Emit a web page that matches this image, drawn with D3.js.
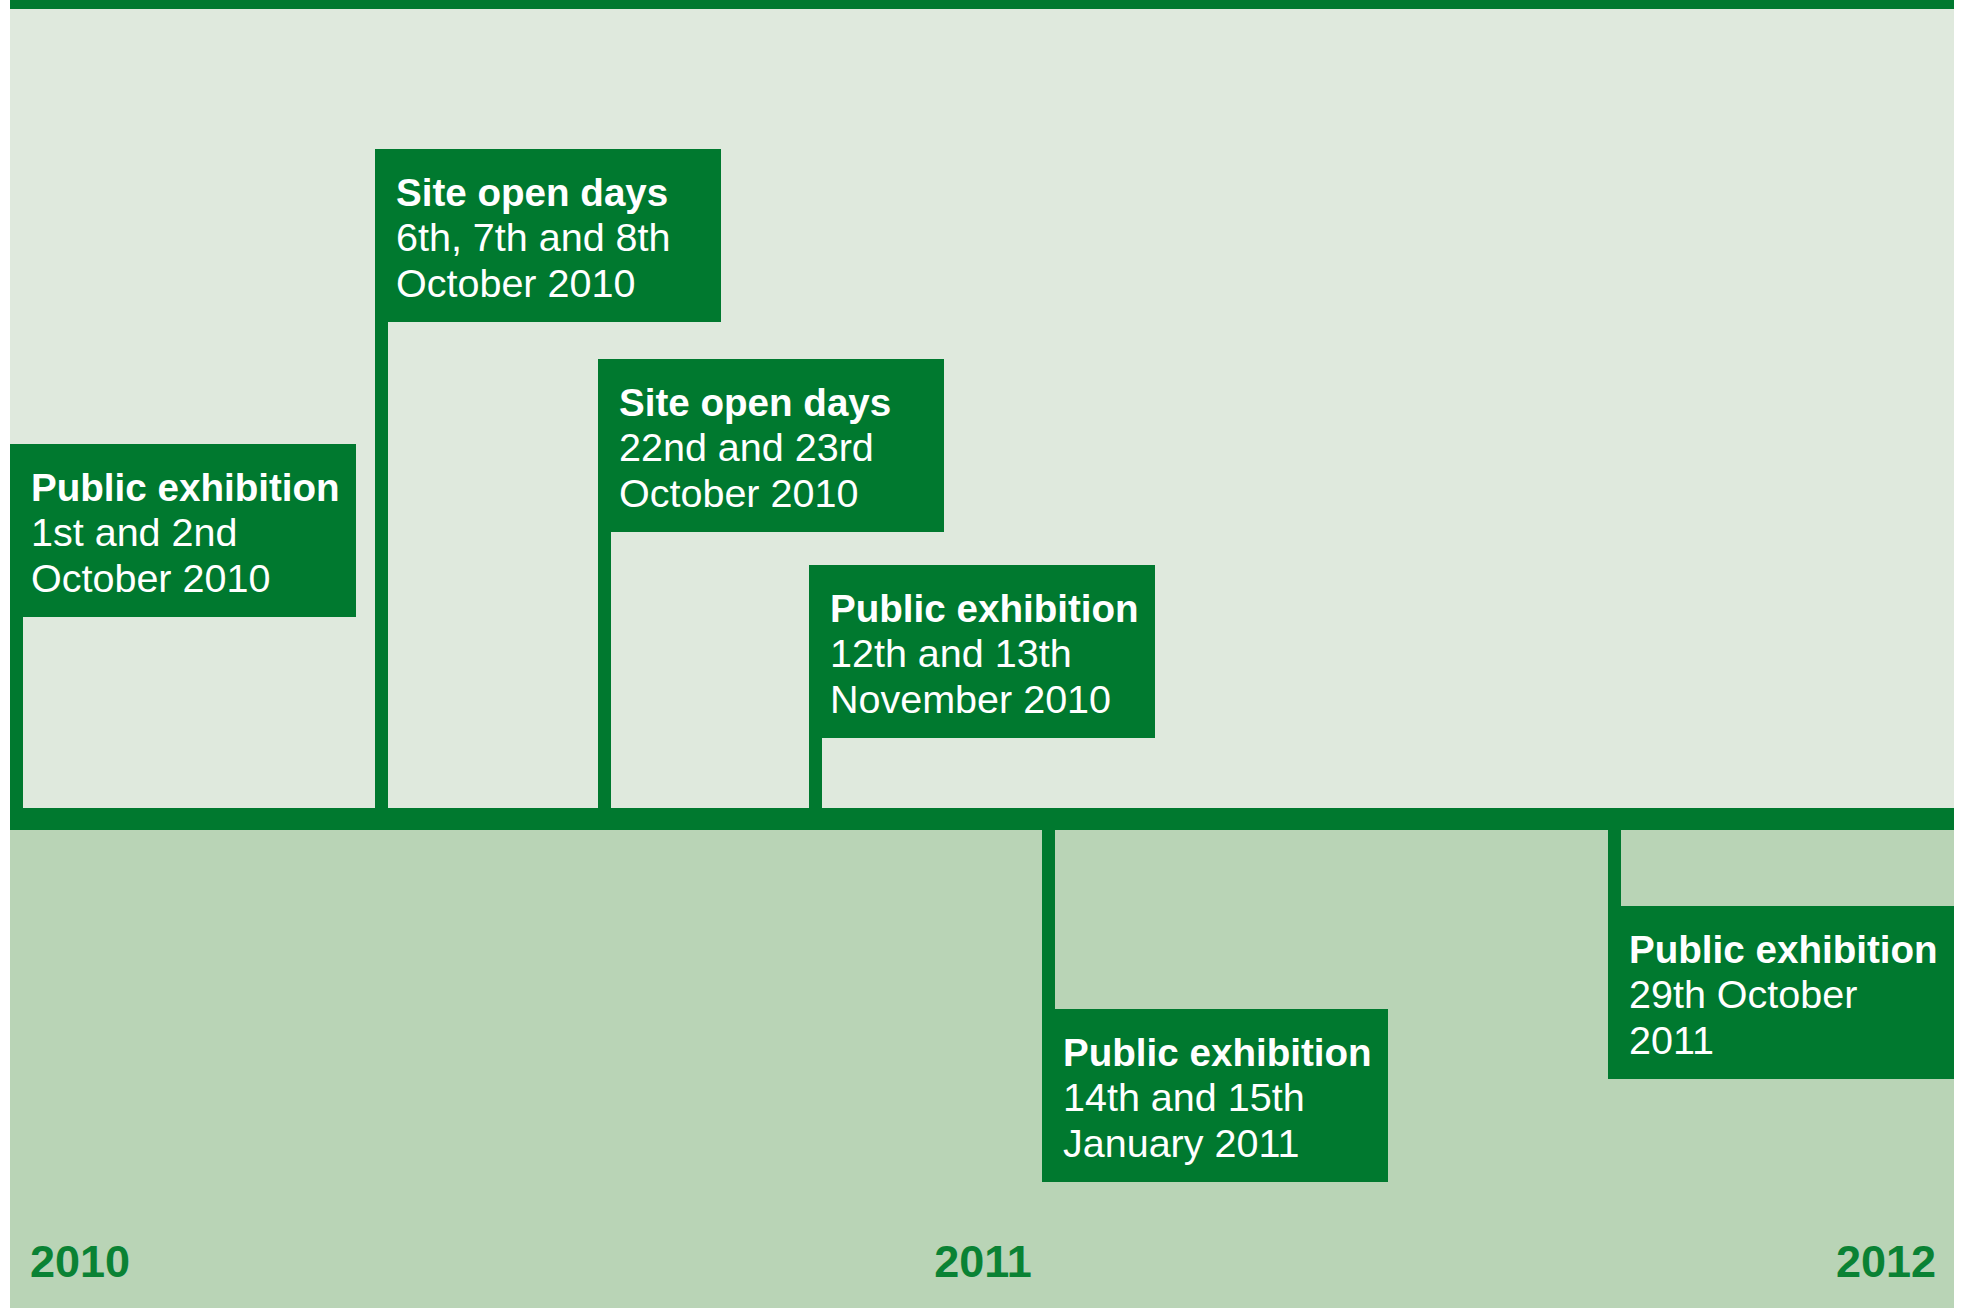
<!DOCTYPE html>
<html>
<head>
<meta charset="utf-8">
<title>Consultation timeline</title>
<script src="https://cdn.jsdelivr.net/npm/d3@7"></script>
<style>
  body { margin: 0; background: #fff; }
  svg { display: block; font-family: "Liberation Sans", Arial, Helvetica, sans-serif; }
</style>
</head>
<body>
<div id="visContainer"></div>
<script>
// data
const eventDates = ["2010-10-01", "2010-10-06", "2010-10-22", "2010-11-12", "2011-01-14", "2011-10-29"];
const eventTitles = ["Public exhibition", "Site open days", "Site open days", "Public exhibition", "Public exhibition", "Public exhibition"];
const eventLine1 = ["1st and 2nd", "6th, 7th and 8th", "22nd and 23rd", "12th and 13th", "14th and 15th", "29th October"];
const eventLine2 = ["October 2010", "October 2010", "October 2010", "November 2010", "January 2011", "2011"];
const years = ["2010", "2011", "2012"];

function makeVis() {
  const width = 1963;
  const height = 1308;
  const left = 10, right = 1954;
  const axisTop = 808, axisH = 22;
  const green = "#00792f";

  // schematic layout: where each flag sits along the line, and how long its pole is
  const stemStops = [10, 375, 598, 809, 1042, 1608];
  const stemSide = [-1, -1, -1, -1, 1, 1];
  const stemLen = [191, 486, 276, 70, 179, 76];
  const boxW = 346, boxH = 173, stemW = 13;

  const parse = d3.timeParse("%Y-%m-%d");
  const events = eventDates.map((d, i) => ({
    date: parse(d),
    title: eventTitles[i],
    lines: [eventLine1[i], eventLine2[i]],
    side: stemSide[i],
    len: stemLen[i]
  }));

  const xScale = d3.scaleTime()
    .domain(events.map(d => d.date))
    .range(stemStops);

  const yearScale = d3.scalePoint()
    .domain(years)
    .range([left + 20, right - 18]);

  const svg = d3.create("svg")
    .attr("width", width)
    .attr("height", height);

  document.querySelector("#visContainer").append(svg.node());

  // backgrounds
  svg.append("rect")
    .attr("x", left).attr("y", 0)
    .attr("width", right - left).attr("height", axisTop)
    .attr("fill", "#dfe9dd");
  svg.append("rect")
    .attr("x", left).attr("y", axisTop + axisH)
    .attr("width", right - left).attr("height", height - axisTop - axisH)
    .attr("fill", "#b9d4b6");
  svg.append("rect")
    .attr("x", left).attr("y", 0)
    .attr("width", right - left).attr("height", 9)
    .attr("fill", green);

  // main line
  svg.append("rect")
    .attr("x", left).attr("y", axisTop)
    .attr("width", right - left).attr("height", axisH)
    .attr("fill", green);

  const boxTop = d => d.side < 0 ? axisTop - d.len - boxH : axisTop + axisH + d.len;

  const flags = svg.selectAll("g.flag")
    .data(events)
    .join("g")
    .attr("class", "flag")
    .attr("transform", d => `translate(${xScale(d.date)},0)`);

  // poles
  flags.append("rect")
    .attr("x", 0)
    .attr("y", d => d.side < 0 ? boxTop(d) : axisTop)
    .attr("width", stemW)
    .attr("height", d => d.side < 0 ? axisTop - boxTop(d) + 1 : boxTop(d) - axisTop + 1)
    .attr("fill", green);

  flags.append("rect")
    .attr("x", 0)
    .attr("y", d => boxTop(d))
    .attr("width", boxW)
    .attr("height", boxH)
    .attr("fill", green);

  flags.append("text")
    .attr("x", 21)
    .attr("y", d => boxTop(d) + 57)
    .attr("fill", "#fff")
    .attr("font-size", 38.6)
    .attr("font-weight", "bold")
    .text(d => d.title);

  flags.each(function(d) {
    d3.select(this).selectAll("text.line")
      .data(d.lines)
      .join("text")
      .attr("class", "line")
      .attr("x", 21)
      .attr("y", (t, j) => boxTop(d) + 102 + j * 45.5)
      .attr("fill", "#fff")
      .attr("font-size", 39.5)
      .text(t => t);
  });

  // year labels
  svg.selectAll("text.year")
    .data(years)
    .join("text")
    .attr("class", "year")
    .attr("x", d => yearScale(d))
    .attr("y", 1277)
    .attr("text-anchor", (d, i) => i === 0 ? "start" : (i === years.length - 1 ? "end" : "middle"))
    .attr("fill", "#0a8234")
    .attr("font-size", 45)
    .attr("font-weight", "bold")
    .text(d => d);
}

makeVis();
</script>
</body>
</html>
